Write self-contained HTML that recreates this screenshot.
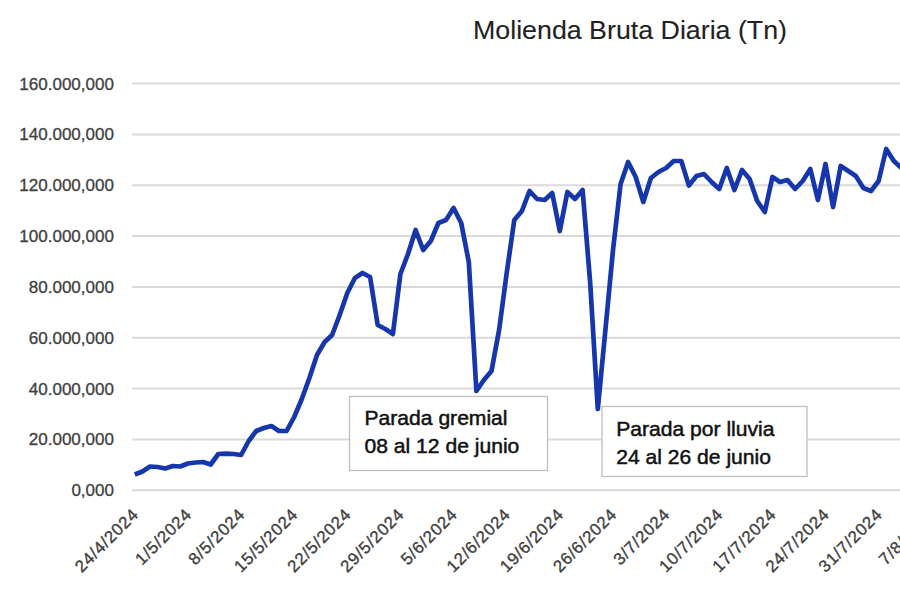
<!DOCTYPE html>
<html><head><meta charset="utf-8"><style>
html,body{margin:0;padding:0;background:#fff;width:900px;height:600px;overflow:hidden}
svg{display:block}
text{font-family:"Liberation Sans",sans-serif}
</style></head><body>
<svg width="900" height="600" viewBox="0 0 900 600">
<rect x="0" y="0" width="900" height="600" fill="#fff"/>
<text x="473" y="38.8" font-size="26" fill="#222" stroke="#222" stroke-width="0.1" textLength="314" lengthAdjust="spacingAndGlyphs">Molienda Bruta Diaria (Tn)</text>
<g stroke="#dadada" stroke-width="2">
<line x1="132" y1="490.3" x2="900" y2="490.3"/>
<line x1="132" y1="439.4" x2="900" y2="439.4"/>
<line x1="132" y1="388.6" x2="900" y2="388.6"/>
<line x1="132" y1="337.8" x2="900" y2="337.8"/>
<line x1="132" y1="286.9" x2="900" y2="286.9"/>
<line x1="132" y1="236.1" x2="900" y2="236.1"/>
<line x1="132" y1="185.2" x2="900" y2="185.2"/>
<line x1="132" y1="134.4" x2="900" y2="134.4"/>
<line x1="132" y1="83.5" x2="900" y2="83.5"/>
</g>
<g font-size="17.05" fill="#404040" stroke="#404040" stroke-width="0.3" text-anchor="end">
<text x="114" y="496.3">0,000</text>
<text x="114" y="445.4">20.000,000</text>
<text x="114" y="394.6">40.000,000</text>
<text x="114" y="343.8">60.000,000</text>
<text x="114" y="292.9">80.000,000</text>
<text x="114" y="242.1">100.000,000</text>
<text x="114" y="191.2">120.000,000</text>
<text x="114" y="140.4">140.000,000</text>
<text x="114" y="89.5">160.000,000</text>
</g>
<g font-size="16.8" fill="#404040" stroke="#404040" stroke-width="0.35" letter-spacing="0.8" text-anchor="end">
<text transform="translate(139.6,515.3) rotate(-45)">24/4/2024</text>
<text transform="translate(192.7,515.3) rotate(-45)">1/5/2024</text>
<text transform="translate(245.9,515.3) rotate(-45)">8/5/2024</text>
<text transform="translate(299.0,515.3) rotate(-45)">15/5/2024</text>
<text transform="translate(352.1,515.3) rotate(-45)">22/5/2024</text>
<text transform="translate(405.2,515.3) rotate(-45)">29/5/2024</text>
<text transform="translate(458.4,515.3) rotate(-45)">5/6/2024</text>
<text transform="translate(511.5,515.3) rotate(-45)">12/6/2024</text>
<text transform="translate(564.6,515.3) rotate(-45)">19/6/2024</text>
<text transform="translate(617.8,515.3) rotate(-45)">26/6/2024</text>
<text transform="translate(670.9,515.3) rotate(-45)">3/7/2024</text>
<text transform="translate(724.0,515.3) rotate(-45)">10/7/2024</text>
<text transform="translate(777.2,515.3) rotate(-45)">17/7/2024</text>
<text transform="translate(830.3,515.3) rotate(-45)">24/7/2024</text>
<text transform="translate(883.4,515.3) rotate(-45)">31/7/2024</text>
<text transform="translate(936.5,515.3) rotate(-45)">7/8/2024</text>
</g>
<polyline fill="none" stroke="#1636ac" stroke-width="4.7" stroke-linejoin="round" stroke-linecap="butt" points="134.8,474.5 142.4,471.5 150.0,466.5 157.6,467 165.2,468.5 172.8,466 180.3,466.5 187.9,463.5 195.5,462.5 203.1,462 210.7,464.5 218.3,454 225.9,453.7 233.5,454 241.1,455 248.7,441 256.2,431 263.8,428 271.4,426 279.0,431 286.6,431 294.2,417 301.8,399 309.4,378 317.0,355 324.6,342 332.1,335 339.7,315 347.3,293 354.9,278 362.5,273 370.1,277 377.7,325 385.3,329 392.9,334 400.4,274 408.0,254 415.6,230 423.2,250 430.8,241 438.4,223 446.0,220 453.6,208 461.2,223 468.8,262 476.4,391 483.9,380 491.5,371 499.1,330 506.7,273 514.3,220 521.9,211 529.5,191 537.1,199 544.7,200 552.2,193 559.8,231 567.4,192 575.0,199 582.6,190 590.2,283 597.8,409 605.4,330 613.0,250 620.6,184 628.1,162 635.7,177 643.3,202 650.9,178 658.5,172 666.1,168 673.7,161 681.3,161 688.9,185.6 696.5,176 704.0,174 711.6,182 719.2,189 726.8,168 734.4,190 742.0,170 749.6,179 757.2,201 764.8,212 772.4,177 780.0,182 787.5,180 795.1,189 802.7,181 810.3,169 817.9,200 825.5,164 833.1,207 840.7,166 848.3,171 855.8,176 863.4,188 871.0,191 878.6,181 886.2,149 893.8,161 901.4,168 909.0,172"/>
<rect x="349.5" y="396.5" width="198" height="74" fill="#fff" stroke="#bfbfbf" stroke-width="1.3"/>
<g font-size="21.1" fill="#111" stroke="#111" stroke-width="0.5">
<text x="364.5" y="424.5">Parada gremial</text>
<text x="364.5" y="453.3">08 al 12 de junio</text>
</g>
<rect x="602" y="406.5" width="205" height="70" fill="#fff" stroke="#bfbfbf" stroke-width="1.3"/>
<g font-size="21.1" fill="#111" stroke="#111" stroke-width="0.5">
<text x="616.2" y="436">Parada por lluvia</text>
<text x="616.2" y="464">24 al 26 de junio</text>
</g>
</svg>
</body></html>
